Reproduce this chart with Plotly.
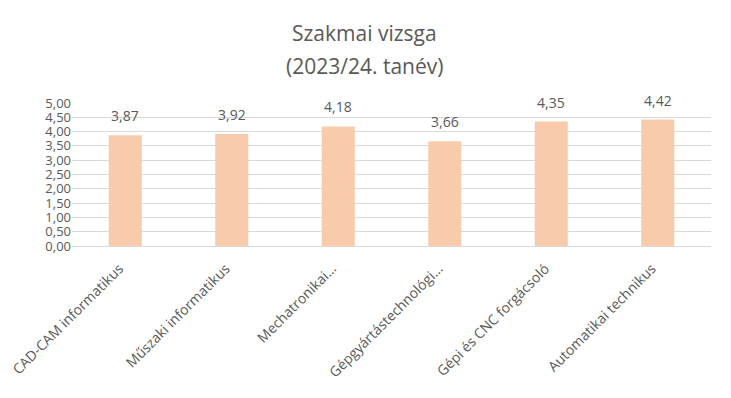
import plotly.graph_objects as go

categories = ["CAD-CAM informatikus", "Műszaki informatikus", "Mechatronikai...",
              "Gépgyártástechnológi...", "Gépi és CNC forgácsoló", "Automatikai technikus"]
values = [3.87, 3.92, 4.18, 3.66, 4.35, 4.42]
value_labels = ["3,87", "3,92", "4,18", "3,66", "4,35", "4,42"]
tick_vals = [0, 0.5, 1, 1.5, 2, 2.5, 3, 3.5, 4, 4.5, 5]
tick_text = ["0,00", "0,50", "1,00", "1,50", "2,00", "2,50", "3,00", "3,50", "4,00", "4,50", "5,00"]
title_lines = ["Szakmai vizsga", "(2023/24. tanév)"]

font_family = "Open Sans, Liberation Sans, sans-serif"
grey = "#595959"

fig = go.Figure(go.Bar(
    x=categories, y=values,
    marker=dict(color="#F8CBAD", line=dict(width=0)),
    width=0.31,
))

# value labels
for c, v, t in zip(categories, values, value_labels):
    fig.add_annotation(x=c, y=v, text=t, showarrow=False, yanchor="bottom",
                       yshift=8, font=dict(size=14, color=grey, family=font_family))

# title lines (pixel centers at y=33 and y=66)
for line, py in zip(title_lines, [33, 66]):
    fig.add_annotation(xref="paper", yref="paper", x=0.4585, y=(246 - py) / 143,
                       xanchor="center", yanchor="middle", text=line, showarrow=False,
                       font=dict(size=21, color=grey, family=font_family))

fig.update_layout(
    width=731, height=398,
    paper_bgcolor="white", plot_bgcolor="white",
    margin=dict(l=72, r=20, t=103, b=152, autoexpand=False),
    showlegend=False,
    bargap=0.69,
)
fig.update_yaxes(range=[0, 5], tickvals=tick_vals, ticktext=tick_text,
                 showgrid=True, gridcolor="#D9D9D9", gridwidth=1,
                 zeroline=False, showline=False, automargin=False,
                 tickfont=dict(size=13, color=grey, family=font_family), ticks="", ticklen=0)
fig.update_xaxes(tickangle=-45, showline=True, linecolor="#D9D9D9", linewidth=1,
                 automargin=False,
                 tickfont=dict(size=14, color=grey, family=font_family), ticks="",
                 ticklabelshift=-6, ticklabelstandoff=8)

fig.write_html("out.html")
